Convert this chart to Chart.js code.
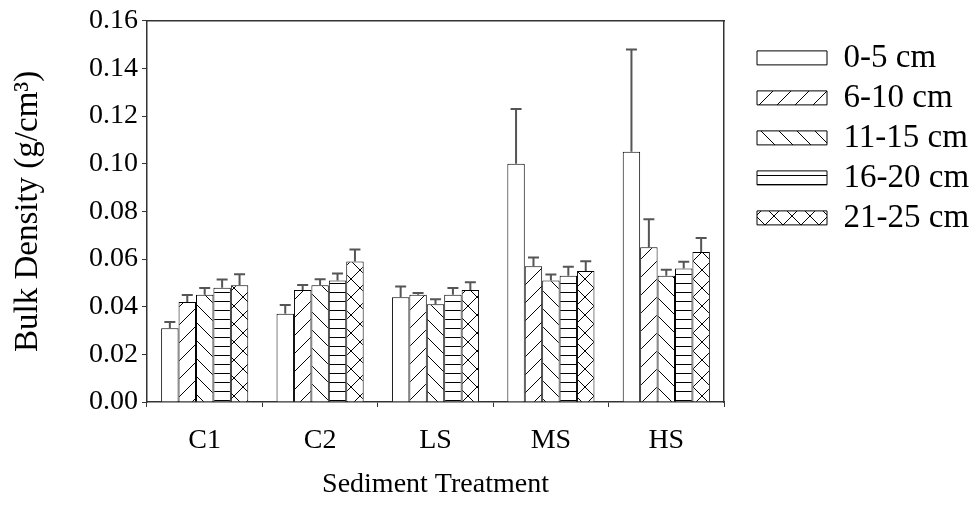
<!DOCTYPE html>
<html>
<head>
<meta charset="utf-8">
<script src="https://cdn.jsdelivr.net/npm/chart.js@4.4.1/dist/chart.umd.min.js"></script>
<style>
  html, body { margin: 0; padding: 0; background: #fff; }
  #wrap { width: 971px; height: 518px; }
</style>
</head>
<body>
<div id="wrap"><canvas id="densityChart" width="971" height="518"></canvas></div>
<script>
// Sediment treatments (x categories) and depth classes (series)
const treatments = ['C1', 'C2', 'LS', 'MS', 'HS'];
const depthLabels = ['0-5 cm', '6-10 cm', '11-15 cm', '16-20 cm', '21-25 cm'];

// Mean bulk density (g/cm3) per depth class
const depth0to5 = [0.031, 0.037, 0.044, 0.100, 0.105];
const depth6to10 = [0.042, 0.047, 0.045, 0.057, 0.065];
const depth11to15 = [0.045, 0.049, 0.041, 0.051, 0.053];
const depth16to20 = [0.048, 0.051, 0.045, 0.053, 0.056];
const depth21to25 = [0.049, 0.059, 0.047, 0.055, 0.063];

// Standard errors (upper bars only)
const err0to5 = [0.0026, 0.0037, 0.0045, 0.023, 0.043];
const err6to10 = [0.0029, 0.0021, 0.0008, 0.0037, 0.0117];
const err11to15 = [0.0029, 0.0025, 0.0021, 0.0025, 0.0025];
const err16to20 = [0.0034, 0.0029, 0.0029, 0.0038, 0.0029];
const err21to25 = [0.0046, 0.005, 0.0033, 0.0041, 0.0058];

const yTicks = [0, 0.02, 0.04, 0.06, 0.08, 0.10, 0.12, 0.14, 0.16];

const serif = "'Liberation Serif', 'Times New Roman', serif";

// hatch fills like the old SigmaPlot patterns
function makePattern(kind) {
    const s = 18;
    const c = document.createElement('canvas');
    c.width = s;
    c.height = s;
    const g = c.getContext('2d');
    g.fillStyle = '#fff';
    g.fillRect(0, 0, s, s);
    g.strokeStyle = '#000';
    g.lineWidth = 1;
    g.beginPath();
    if (kind === 'slash' || kind === 'cross') {
        g.moveTo(-1, s + 1); g.lineTo(s + 1, -1);
        g.moveTo(-2, 2); g.lineTo(2, -2);
        g.moveTo(s - 2, s + 2); g.lineTo(s + 2, s - 2);
    }
    if (kind === 'back' || kind === 'cross') {
        g.moveTo(-1, -1); g.lineTo(s + 1, s + 1);
        g.moveTo(s - 2, -2); g.lineTo(s + 2, 2);
        g.moveTo(-2, s - 2); g.lineTo(2, s + 2);
    }
    if (kind === 'horiz') {
        g.moveTo(0, 4.5); g.lineTo(s, 4.5);
        g.moveTo(0, 13.5); g.lineTo(s, 13.5);
    }
    g.stroke();
    return g.createPattern(c, 'repeat');
}

const fills = [
    '#ffffff',
    makePattern('slash'),
    makePattern('back'),
    makePattern('horiz'),
    makePattern('cross')
];

const seriesValues = [depth0to5, depth6to10, depth11to15, depth16to20, depth21to25];
const seriesErrors = [err0to5, err6to10, err11to15, err16to20, err21to25];

const errorBars = {
    id: 'errorBars',
    afterDatasetsDraw(chart) {
        const ctx = chart.ctx;
        const y = chart.scales.y;
        ctx.save();
        ctx.strokeStyle = '#555';
        ctx.lineWidth = 2;
        chart.data.datasets.forEach((ds, i) => {
            const meta = chart.getDatasetMeta(i);
            meta.data.forEach((bar, j) => {
                const top = y.getPixelForValue(ds.data[j] + ds.errors[j]);
                ctx.beginPath();
                ctx.moveTo(bar.x, bar.y);
                ctx.lineTo(bar.x, top);
                ctx.moveTo(bar.x - 5.5, top);
                ctx.lineTo(bar.x + 5.5, top);
                ctx.stroke();
            });
        });
        ctx.restore();
    }
};

const ctx = document.getElementById('densityChart').getContext('2d');

new Chart(ctx, {
    type: 'bar',
    data: {
        labels: treatments,
        datasets: depthLabels.map((label, i) => ({
            label: label,
            data: seriesValues[i],
            errors: seriesErrors[i],
            backgroundColor: fills[i],
            borderColor: '#000',
            borderWidth: 1,
            barPercentage: 1.0,
            categoryPercentage: 0.755
        }))
    },
    options: {
        responsive: false,
        animation: false,
        layout: {
            padding: { top: 17, right: 0, left: 0, bottom: 0 }
        },
        plugins: {
            tooltip: { enabled: false },
            legend: {
                position: 'right',
                align: 'start',
                maxWidth: 221,
                title: {
                    display: true,
                    text: ' ',
                    font: { size: 2 },
                    padding: { top: 0, bottom: 15 }
                },
                labels: {
                    boxWidth: 70,
                    boxHeight: 14,
                    padding: 7,
                    color: '#000',
                    font: { family: serif, size: 33 }
                }
            }
        },
        scales: {
            x: {
                grid: { drawOnChartArea: false, tickLength: 5, color: '#333' },
                border: { color: '#333', width: 1.5 },
                ticks: {
                    color: '#000',
                    padding: 17,
                    font: { family: serif, size: 28 }
                },
                title: {
                    display: true,
                    text: 'Sediment Treatment',
                    color: '#000',
                    font: { family: serif, size: 28 },
                    padding: { top: 0, bottom: 17 }
                },
                afterFit(scale) { scale.height = 116; }
            },
            xTop: {
                type: 'linear',
                position: 'top',
                grid: { drawOnChartArea: false, drawTicks: false },
                border: { color: '#333', width: 1.5 },
                ticks: { display: false },
                afterFit(scale) { scale.height = 0; }
            },
            y: {
                min: 0,
                max: 0.16,
                grid: { drawOnChartArea: false, tickLength: 5, color: '#333' },
                border: { color: '#333', width: 1.5 },
                afterBuildTicks(scale) {
                    scale.ticks = yTicks.map(v => ({ value: v }));
                },
                ticks: {
                    color: '#000',
                    padding: 4,
                    font: { family: serif, size: 28 },
                    callback: v => Number(v).toFixed(2)
                },
                title: {
                    display: true,
                    text: 'Bulk Density (g/cm³)',
                    color: '#000',
                    font: { family: serif, size: 33 },
                    padding: { top: 9, bottom: 0 }
                },
                afterFit(scale) { scale.width = 147; }
            },
            yRight: {
                type: 'linear',
                position: 'right',
                grid: { drawOnChartArea: false, drawTicks: false },
                border: { color: '#333', width: 1.5 },
                ticks: { display: false },
                afterFit(scale) { scale.width = 26; }
            }
        }
    },
    plugins: [errorBars]
});
</script>
</body>
</html>
